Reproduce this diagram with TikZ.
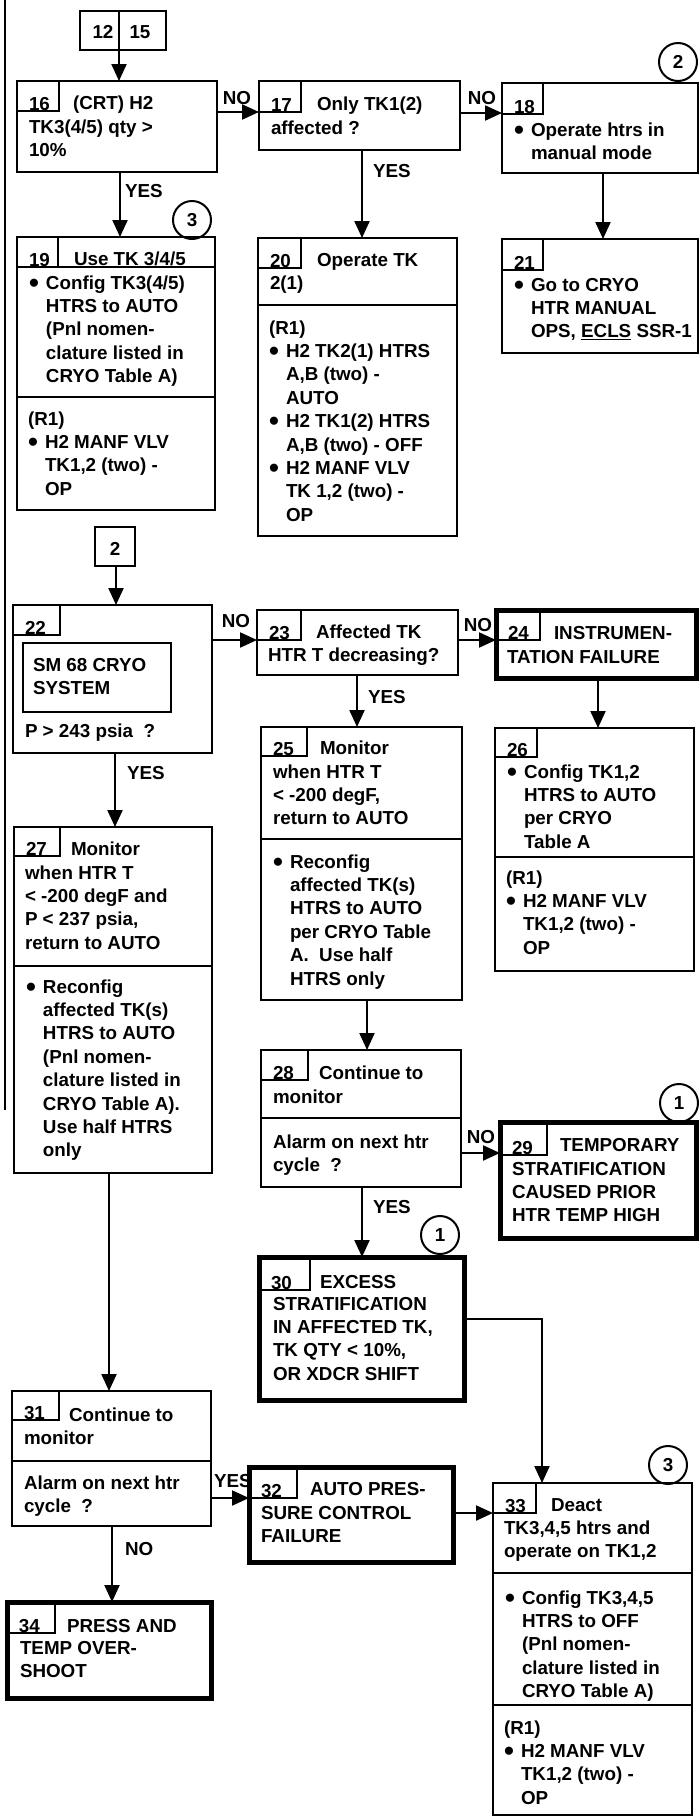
\documentclass[tikz,border=0pt]{standalone}
\usepackage{fontspec}
\setmainfont{Liberation Sans}
\usetikzlibrary{arrows.meta}
\newcommand{\xLn}[1]{\hbox{#1}}
\newcommand{\xBul}{\hbox to 17pt{\raisebox{-3pt}{\scalebox{1.5}{•}}\hss}}
\newcommand{\xBu}[1]{\hbox{\xBul#1}}
\newcommand{\xCt}[1]{\hbox{\hskip17pt #1}}
\newcommand{\xTx}[4]{\node[txt] (#1) at (#2,#3) {\vtop{\baselineskip=23.4pt\lineskiplimit=-30pt\lineskip=0pt #4}};}
\newcommand{\xBox}[8]{%
  \node[#2, minimum width={(#5-#3)*1pt}, minimum height={(#6-#4)*1pt}] (b#1) at (#3,#4) {};
  \draw[tabline] (b#1.north west) ++(#7,0) |- ++(-#7,#8);
  \node[txt] (n#1) at (#3+12,#4+#8-1) {#1};
}
\tikzset{
  txt/.style={anchor=base west, inner sep=0pt, outer sep=0pt, font=\fontsize{18.8pt}{23.4pt}\selectfont\bfseries},
  lbl/.style={anchor=base, inner sep=0pt, outer sep=0pt, font=\fontsize{18.8pt}{23.4pt}\selectfont\bfseries},
  box/.style={rectangle, draw=black, line width=2pt, anchor=north west, inner sep=0pt, outer sep=0pt},
  thickbox/.style={box, line width=5pt},
  tabline/.style={draw=black, line width=2pt},
  arr/.style={draw=black, line width=2.2pt, -{Triangle[length=17pt,width=15pt]}},
  circ/.style={circle, draw=black, line width=2pt, minimum size=38pt, inner sep=0pt, font=\fontsize{18.8pt}{23.4pt}\selectfont\bfseries},
}
\begin{document}
\begin{tikzpicture}[x=1pt,y=-1pt]
\useasboundingbox (0,0) rectangle (700,1818);
\fill[white] (0,0) rectangle (700,1818);
% left margin line
\coordinate (lt) at (5,0);
\coordinate (lb) at (5,1110);
\draw[line width=2pt] (lt) -- (lb);

% entry box 12|15
\node[box, minimum width=86pt, minimum height=39pt] (b1215) at (80,11) {};
\draw[tabline] (b1215.north -| 119,0) -- (b1215.south -| 119,0);
\node[lbl] (n12) at (103,38) {12};
\node[lbl] (n15) at (140,38) {15};

% row 1
\xBox{16}{box}{17}{81}{217}{172}{42}{30}
\xTx{t16a}{73}{109}{\xLn{(CRT) H2}}
\xTx{t16b}{29}{133}{\xLn{TK3(4/5) qty >}\xLn{10\%}}

\xBox{17}{box}{259}{81}{460}{150}{42}{31}
\xTx{t17a}{317}{110}{\xLn{Only TK1(2)}}
\xTx{t17b}{271}{134}{\xLn{affected ?}}

\xBox{18}{box}{502}{83}{698}{173}{41}{31}
\xTx{t18}{514}{136}{\xBu{Operate htrs in}\xCt{manual mode}}
\node[circ] (c2) at (678,62) {2};

% row 2
\xBox{19}{box}{17}{237}{215}{510}{41}{30}
\draw[tabline] (b19.west |- 0,267) -- (b19.east |- 0,267);
\draw[tabline] (b19.west |- 0,397) -- (b19.east |- 0,397);
\xTx{t19a}{74}{265}{\xLn{Use TK 3/4/5}}
\xTx{t19b}{29}{289}{\xBu{Config TK3(4/5)}\xCt{HTRS to AUTO}\xCt{(Pnl nomen-}\xCt{clature listed in}\xCt{CRYO Table A)}}
\xTx{t19c}{28}{425}{\xLn{(R1)}\xBu{H2 MANF VLV}\xCt{TK1,2 (two) -}\xCt{OP}}
\node[circ] (c3a) at (192,220) {3};

\xBox{20}{box}{258}{238}{457}{536}{43}{30}
\draw[tabline] (b20.west |- 0,305) -- (b20.east |- 0,305);
\xTx{t20a}{317}{266}{\xLn{Operate TK}}
\xTx{t20b}{270}{289}{\xLn{2(1)}}
\xTx{t20c}{269}{334}{\xLn{(R1)}\xBu{H2 TK2(1) HTRS}\xCt{A,B (two) -}\xCt{AUTO}\xBu{H2 TK1(2) HTRS}\xCt{A,B (two) - OFF}\xBu{H2 MANF VLV}\xCt{TK 1,2 (two) -}\xCt{OP}}

\xBox{21}{box}{502}{239}{698}{353}{41}{31}
\xTx{t21}{514}{291}{\xBu{Go to CRYO}\xCt{HTR MANUAL}\xCt{OPS, \underline{ECLS} SSR-1}}

% connector 2
\node[box, minimum width=40pt, minimum height=39pt] (bc2) at (95,527) {};
\node[lbl] (nc2) at (115,555) {2};

% row 3
\xBox{22}{box}{13}{605}{212}{753}{47}{30}
\node[box, minimum width=148pt, minimum height=69pt] (b22i) at (23,643) {};
\xTx{t22a}{33}{671}{\xLn{SM 68 CRYO}\xLn{SYSTEM}}
\xTx{t22b}{25}{737}{\xLn{P > 243 psia\ \ ?}}

\xBox{23}{box}{257}{610}{458}{675}{44}{30}
\xTx{t23a}{316}{638}{\xLn{Affected TK}}
\xTx{t23b}{268}{661}{\xLn{HTR T decreasing?}}

\xBox{24}{thickbox}{496}{610}{696}{678}{44}{30}
\xTx{t24a}{554}{639}{\xLn{INSTRUMEN-}}
\xTx{t24b}{507}{663}{\xLn{TATION FAILURE}}

\xBox{25}{box}{261}{727}{462}{1000}{46}{29}
\draw[tabline] (b25.west |- 0,839) -- (b25.east |- 0,839);
\xTx{t25a}{320}{754}{\xLn{Monitor}}
\xTx{t25b}{273}{778}{\xLn{when HTR T}\xLn{< -200 degF,}\xLn{return to AUTO}}
\xTx{t25c}{273}{868}{\xBu{Reconfig}\xCt{affected TK(s)}\xCt{HTRS to AUTO}\xCt{per CRYO Table}\xCt{A.\ \ Use half}\xCt{HTRS only}}

\xBox{26}{box}{495}{728}{694}{971}{42}{29}
\draw[tabline] (b26.west |- 0,857) -- (b26.east |- 0,857);
\xTx{t26a}{507}{778}{\xBu{Config TK1,2}\xCt{HTRS to AUTO}\xCt{per CRYO}\xCt{Table A}}
\xTx{t26b}{506}{884}{\xLn{(R1)}\xBu{H2 MANF VLV}\xCt{TK1,2 (two) -}\xCt{OP}}

\xBox{27}{box}{14}{827}{212}{1173}{46}{29}
\draw[tabline] (b27.west |- 0,966) -- (b27.east |- 0,966);
\xTx{t27a}{71}{855}{\xLn{Monitor}}
\xTx{t27b}{25}{879}{\xLn{when HTR T}\xLn{< -200 degF and}\xLn{P < 237 psia,}\xLn{return to AUTO}}
\xTx{t27c}{26}{993}{\xBu{Reconfig}\xCt{affected TK(s)}\xCt{HTRS to AUTO}\xCt{(Pnl nomen-}\xCt{clature listed in}\xCt{CRYO Table A).}\xCt{Use half HTRS}\xCt{only}}

% row 4
\xBox{28}{box}{261}{1050}{461}{1187}{47}{30}
\draw[tabline] (b28.west |- 0,1118) -- (b28.east |- 0,1118);
\xTx{t28a}{319}{1079}{\xLn{Continue to}}
\xTx{t28b}{273}{1103}{\xLn{monitor}}
\xTx{t28c}{273}{1148}{\xLn{Alarm on next htr}\xLn{cycle\ \ ?}}

\xBox{29}{thickbox}{500}{1122}{696}{1238}{47}{33}
\xTx{t29a}{560}{1151}{\xLn{TEMPORARY}}
\xTx{t29b}{512}{1175}{\xLn{STRATIFICATION}\xLn{CAUSED PRIOR}\xLn{HTR TEMP HIGH}}
\node[circ] (c1a) at (679,1103) {1};

\xBox{30}{thickbox}{259}{1257}{464}{1400}{51}{33}
\xTx{t30a}{320}{1288}{\xLn{EXCESS}}
\xTx{t30b}{273}{1310}{\xLn{STRATIFICATION}\xLn{IN AFFECTED TK,}\xLn{TK QTY < 10\%,}\xLn{OR XDCR SHIFT}}
\node[circ] (c1b) at (440,1235) {1};

% row 5
\xBox{31}{box}{12}{1391}{211}{1526}{47}{29}
\draw[tabline] (b31.west |- 0,1461) -- (b31.east |- 0,1461);
\xTx{t31a}{69}{1421}{\xLn{Continue to}}
\xTx{t31b}{24}{1444}{\xLn{monitor}}
\xTx{t31c}{24}{1489}{\xLn{Alarm on next htr}\xLn{cycle\ \ ?}}

\xBox{32}{thickbox}{249}{1467}{453}{1562}{48}{31}
\xTx{t32a}{310}{1495}{\xLn{AUTO PRES-}}
\xTx{t32b}{261}{1519}{\xLn{SURE CONTROL}\xLn{FAILURE}}

\xBox{33}{box}{493}{1483}{692}{1815}{43}{30}
\draw[tabline] (b33.west |- 0,1573) -- (b33.east |- 0,1573);
\draw[tabline] (b33.west |- 0,1705) -- (b33.east |- 0,1705);
\xTx{t33a}{551}{1511}{\xLn{Deact}}
\xTx{t33b}{504}{1534}{\xLn{TK3,4,5 htrs and}\xLn{operate on TK1,2}}
\xTx{t33c}{505}{1604}{\xBu{Config TK3,4,5}\xCt{HTRS to OFF}\xCt{(Pnl nomen-}\xCt{clature listed in}\xCt{CRYO Table A)}}
\xTx{t33d}{504}{1734}{\xLn{(R1)}\xBu{H2 MANF VLV}\xCt{TK1,2 (two) -}\xCt{OP}}
\node[circ] (c3b) at (668,1465) {3};

\xBox{34}{thickbox}{7}{1602}{211}{1698}{48}{31}
\xTx{t34a}{67}{1632}{\xLn{PRESS AND}}
\xTx{t34b}{20}{1654}{\xLn{TEMP OVER-}\xLn{SHOOT}}

% connectors
\draw[arr] (b1215.south -| 119,0) -- (b16.north -| 119,0);
\draw[arr] (b16.east |- 0,112) -- (b17.west |- 0,112);
\draw[arr] (b17.east |- 0,113) -- (b18.west |- 0,113);
\draw[arr] (b16.south -| 120,0) -- (b19.north -| 120,0);
\draw[arr] (b17.south -| 362,0) -- (b20.north -| 362,0);
\draw[arr] (b18.south -| 603,0) -- (b21.north -| 603,0);
\draw[arr] (bc2.south -| 116,0) -- (b22.north -| 116,0);
\draw[arr] (b22.east |- 0,640) -- (b23.west |- 0,640);
\draw[arr] (b23.east |- 0,640) -- (b24.west |- 0,640);
\draw[arr] (b24.south -| 598,0) -- (b26.north -| 598,0);
\draw[arr] (b23.south -| 357,0) -- (b25.north -| 357,0);
\draw[arr] (b22.south -| 115,0) -- (b27.north -| 115,0);
\draw[arr] (b25.south -| 367,0) -- (b28.north -| 367,0);
\draw[arr] (b28.east |- 0,1153) -- (b29.west |- 0,1153);
\draw[arr] (b28.south -| 362,0) -- (b30.north -| 362,0);
\draw[arr] (b27.south -| 109,0) -- (b31.north -| 109,0);
\draw[arr] (b30.east |- 0,1319) -| (b33.north -| 542,0);
\draw[arr] (b31.east |- 0,1498) -- (b32.west |- 0,1498);
\draw[arr] (b32.east |- 0,1513) -- (b33.west |- 0,1513);
\draw[arr] (b31.south -| 112,0) -- (b34.north -| 112,0);

% labels
\node[lbl] (l1) at (237,104) {NO};
\node[lbl] (l2) at (482,104) {NO};
\node[lbl, anchor=base west] (l3) at (125,197) {YES};
\node[lbl, anchor=base west] (l4) at (373,177) {YES};
\node[lbl] (l5) at (236,627) {NO};
\node[lbl] (l6) at (478,631) {NO};
\node[lbl, anchor=base west] (l7) at (368,703) {YES};
\node[lbl, anchor=base west] (l8) at (127,779) {YES};
\node[lbl] (l9) at (481,1143) {NO};
\node[lbl, anchor=base west] (l10) at (373,1213) {YES};
\node[lbl, anchor=base west] (l11) at (214,1487) {YES};
\node[lbl, anchor=base west] (l12) at (125,1555) {NO};
\end{tikzpicture}
\end{document}
